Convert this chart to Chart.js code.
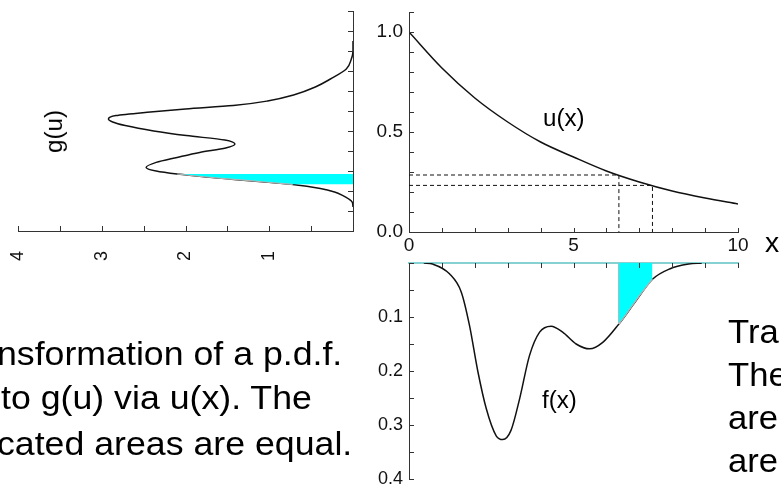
<!DOCTYPE html>
<html>
<head>
<meta charset="utf-8">
<script src="https://cdn.jsdelivr.net/npm/chart.js@4.4.0/dist/chart.umd.min.js"></script>
<style>
  html, body { margin: 0; padding: 0; background: #fff; }
  #wrap { position: relative; width: 781px; height: 485px; overflow: hidden;
          font-family: "Liberation Sans", Arial, sans-serif; color: #000; }
  canvas { position: absolute; }
  .txt { position: absolute; white-space: nowrap; line-height: 1;
         transform-origin: 0 50%; transform: scaleX(1.05); }
</style>
</head>
<body>
<div id="wrap">
  <canvas id="chartG" width="360" height="265" style="left:0;top:0"></canvas>
  <canvas id="chartU" width="441" height="262" style="left:340px;top:0"></canvas>
  <canvas id="chartF" width="441" height="245" style="left:340px;top:240px"></canvas>

  <div class="txt" style="left:543px;top:107px;font-size:23px">u(x)</div>
  <div class="txt" style="left:542px;top:389px;font-size:23px">f(x)</div>
  <div class="txt" style="left:34px;top:120px;font-size:23px;transform-origin:50% 50%;transform:rotate(-90deg) scaleX(1.05)">g(u)</div>
  <div class="txt" style="left:765px;top:230px;font-size:27px">x</div>

  <div class="txt" style="left:-3px;top:336px;font-size:34px">nsformation of a p.d.f.</div>
  <div class="txt" style="left:1px;top:380px;font-size:34px">to g(u) via u(x). The</div>
  <div class="txt" style="left:-3px;top:426px;font-size:34px">cated areas are equal.</div>

  <div class="txt" style="left:728px;top:315px;font-size:33px">Tran</div>
  <div class="txt" style="left:728px;top:358px;font-size:33px">The</div>
  <div class="txt" style="left:728px;top:401px;font-size:33px">are</div>
  <div class="txt" style="left:728px;top:444px;font-size:33px">are</div>
</div>

<script>
// --- datos ---

// u(x): la transformación
const xGrid = [0, 1, 2, 3, 4, 5, 6, 7, 8, 9, 10];
const uOfX  = [1.0, 0.82, 0.67, 0.55, 0.45, 0.375, 0.305, 0.25, 0.205, 0.17, 0.14];

// f(x), dibujada hacia abajo
const fX = [0.45, 0.72, 1.23, 1.59, 1.84, 2.09, 2.35, 2.65, 2.85, 3.1, 3.36, 3.66,
            3.97, 4.32, 4.67, 5.08, 5.49, 5.89, 6.38, 6.9, 7.4, 7.92, 8.5, 8.9];
const fY = [0, 0.002, 0.02, 0.054, 0.116, 0.2, 0.27, 0.32, 0.327, 0.31, 0.252, 0.172,
            0.128, 0.117, 0.128, 0.15, 0.159, 0.147, 0.113, 0.07, 0.03, 0.011, 0.002, 0];

// g(u), panel girado (u vertical, g creciendo hacia la izquierda)
const gU = [0.12, 0.145, 0.16, 0.177, 0.195, 0.213, 0.233, 0.245, 0.258, 0.27, 0.285, 0.30,
            0.318, 0.343, 0.368, 0.393, 0.415, 0.435, 0.455, 0.477, 0.50, 0.527, 0.545, 0.56,
            0.577, 0.595, 0.61, 0.627, 0.65, 0.68, 0.72, 0.76, 0.81, 0.86, 0.90, 0.95];
const gG = [0, 0.01, 0.05, 0.12, 0.22, 0.39, 0.72, 1.05, 1.42, 1.75, 2.1, 2.35,
            2.47, 2.35, 2.1, 1.83, 1.52, 1.41, 1.53, 1.99, 2.38, 2.72, 2.87, 2.92,
            2.83, 2.42, 2.0, 1.43, 1.02, 0.71, 0.45, 0.27, 0.08, 0.02, 0, 0];

// áreas sombreadas (iguales)
const sliceX = [6.38, 6.6, 6.8, 7.0, 7.2, 7.4];
const sliceF = [0.113, 0.095, 0.078, 0.061, 0.045, 0.03];
const sliceU = [0.233, 0.245, 0.258, 0.27, 0.285];
const sliceG = [0.72, 1.05, 1.42, 1.75, 2.1];

// líneas discontinuas
const dashX = [6.38, 7.4];
const dashU = [0.285, 0.233];

// etiquetas de los ejes
const xLabels = [0, 5, 10];
const uLabels = [0, 0.5, 1.0];
const fLabels = [0.1, 0.2, 0.3, 0.4];
const gLabels = [1, 2, 3, 4];

// --- estilo ---
const FONT = '"Liberation Sans", Arial, sans-serif';
const AXIS = '#333';
const LABEL = '#111';
const CYAN = '#00ffff';
const EDGE = '#b4b4b4';

function pts(xs, ys) { return xs.map((x, i) => ({ x: x, y: ys[i] })); }
function inList(list, v) { return list.some(l => Math.abs(l - v) < 1e-6); }

// fija el tamaño del eje para que el área de dibujo quede donde toca
function fixSize(dim) {
  return function (s) {
    if (s.isHorizontal()) s.height = dim; else s.width = dim;
    s.paddingTop = s.paddingBottom = s.paddingLeft = s.paddingRight = 0;
  };
}

// marcas de los ejes hacia dentro
const inTicks = {
  id: 'inTicks',
  afterDraw(chart, args, opts) {
    const ctx = chart.ctx, a = chart.chartArea;
    ctx.save();
    ctx.strokeStyle = AXIS;
    ctx.lineWidth = 1;
    Object.keys(chart.scales).forEach(id => {
      const len = opts[id];
      if (!len) return;
      const s = chart.scales[id];
      s.ticks.forEach(t => {
        const p = Math.round(s.getPixelForValue(t.value)) + 0.5;
        ctx.beginPath();
        if (s.position === 'bottom') { ctx.moveTo(p, a.bottom); ctx.lineTo(p, a.bottom - len); }
        else if (s.position === 'top') { ctx.moveTo(p, a.top); ctx.lineTo(p, a.top + len); }
        else if (s.position === 'left') { ctx.moveTo(a.left, p); ctx.lineTo(a.left + len, p); }
        else { ctx.moveTo(a.right, p); ctx.lineTo(a.right - len, p); }
        ctx.stroke();
      });
    });
    ctx.restore();
  }
};

const common = {
  responsive: false,
  animation: false,
  events: [],
  elements: { point: { radius: 0 } }
};

// ==========================================
// 1. u(x)  (arriba a la derecha)
// ==========================================
new Chart(document.getElementById('chartU'), {
  type: 'line',
  data: {
    datasets: [
      { data: pts(xGrid, uOfX), borderColor: '#111', borderWidth: 1.5, cubicInterpolationMode: 'monotone' },
      { data: [{ x: 0, y: dashU[0] }, { x: dashX[0], y: dashU[0] }, { x: dashX[0], y: 0 }],
        borderColor: '#111', borderWidth: 1, borderDash: [4, 3], tension: 0 },
      { data: [{ x: 0, y: dashU[1] }, { x: dashX[1], y: dashU[1] }, { x: dashX[1], y: 0 }],
        borderColor: '#111', borderWidth: 1, borderDash: [4, 3], tension: 0 }
    ]
  },
  options: Object.assign({}, common, {
    layout: { padding: { top: 12, right: 43, left: 0, bottom: 0 } },
    plugins: { legend: { display: false }, tooltip: { enabled: false }, inTicks: { x: 4, y: 5 } },
    scales: {
      x: {
        type: 'linear', min: 0, max: 10,
        grid: { display: false, drawTicks: false },
        border: { color: AXIS, width: 1 },
        ticks: { stepSize: 1, autoSkip: false, maxRotation: 0, padding: 2, color: LABEL,
                 font: { size: 19, family: FONT },
                 callback: v => inList(xLabels, v) ? String(v) : '' },
        afterFit: fixSize(30)
      },
      y: {
        type: 'linear', min: 0, max: 1.1,
        grid: { display: false, drawTicks: false },
        border: { color: AXIS, width: 1 },
        ticks: { stepSize: 0.1, autoSkip: false, padding: 6, color: LABEL,
                 font: { size: 19, family: FONT },
                 callback: v => inList(uLabels, v) ? v.toFixed(1) : '' },
        afterFit: fixSize(69)
      }
    }
  }),
  plugins: [inTicks]
});

// ==========================================
// 2. f(x)  (abajo a la derecha, eje invertido)
// ==========================================
new Chart(document.getElementById('chartF'), {
  type: 'line',
  data: {
    datasets: [
      { data: pts(sliceX, sliceF), order: 0, borderColor: EDGE, borderWidth: 1.2,
        backgroundColor: CYAN, fill: 'origin', cubicInterpolationMode: 'monotone' },
      { data: [{ x: sliceX[0], y: 0 }, { x: sliceX[0], y: sliceF[0] }], order: 0,
        borderColor: EDGE, borderWidth: 1, tension: 0 },
      { data: pts(fX, fY), order: 1, borderColor: '#111', borderWidth: 1.5,
        cubicInterpolationMode: 'monotone' }
    ]
  },
  options: Object.assign({}, common, {
    layout: { padding: { top: 23, right: 43, left: 0, bottom: 6 } },
    plugins: { legend: { display: false }, tooltip: { enabled: false }, inTicks: { x: 5, y: 5 } },
    scales: {
      x: {
        type: 'linear', position: 'top', min: 0, max: 10,
        grid: { display: false, drawTicks: false },
        border: { color: '#86d2d2', width: 2 },
        ticks: { stepSize: 1, autoSkip: false, display: false },
        afterFit: fixSize(0)
      },
      y: {
        type: 'linear', min: 0, max: 0.4, reverse: true,
        grid: { display: false, drawTicks: false },
        border: { color: AXIS, width: 1 },
        ticks: { stepSize: 0.05, autoSkip: false, padding: 6, color: LABEL,
                 font: { size: 18, family: FONT },
                 callback: v => inList(fLabels, v) ? v.toFixed(1) : '' },
        afterFit: fixSize(69)
      }
    }
  }),
  plugins: [inTicks]
});

// ==========================================
// 3. g(u)  (panel girado a la izquierda)
// ==========================================
new Chart(document.getElementById('chartG'), {
  type: 'line',
  data: {
    datasets: [
      { data: pts(sliceG, sliceU), order: 0, borderColor: EDGE, borderWidth: 1.2,
        backgroundColor: CYAN, fill: 'origin', cubicInterpolationMode: 'monotone' },
      { data: pts(gG, gU), order: 1, borderColor: '#111', borderWidth: 1.5,
        cubicInterpolationMode: 'monotone' }
    ]
  },
  options: Object.assign({}, common, {
    indexAxis: 'y',
    layout: { padding: { top: 11, right: 7, left: 18, bottom: 0 } },
    plugins: { legend: { display: false }, tooltip: { enabled: false }, inTicks: { x: 5, y: 5 } },
    scales: {
      x: {
        type: 'linear', min: 0, max: 4, reverse: true,
        grid: { display: false, drawTicks: false },
        border: { color: AXIS, width: 1 },
        ticks: { stepSize: 0.5, autoSkip: false, minRotation: 90, maxRotation: 90, padding: 20,
                 color: LABEL, font: { size: 18, family: FONT },
                 callback: v => inList(gLabels, v) ? String(v) : '' },
        afterFit: fixSize(34)
      },
      y: {
        type: 'linear', position: 'right', min: 0, max: 1.1,
        grid: { display: false, drawTicks: false },
        border: { color: AXIS, width: 1 },
        ticks: { stepSize: 0.1, autoSkip: false, display: false },
        afterFit: fixSize(0)
      }
    }
  }),
  plugins: [inTicks]
});
</script>
</body>
</html>
